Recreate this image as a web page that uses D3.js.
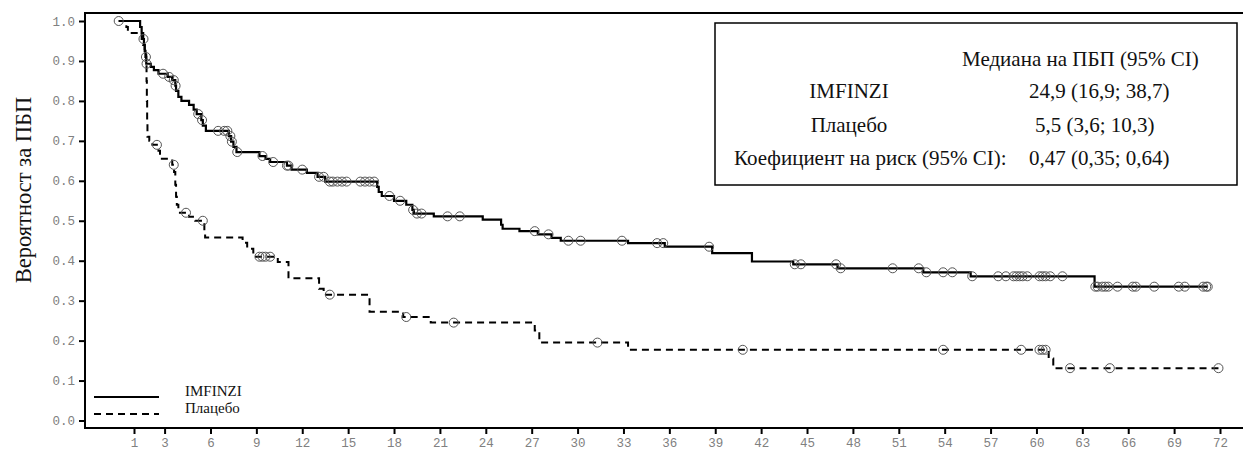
<!DOCTYPE html>
<html>
<head>
<meta charset="utf-8">
<script src="https://cdn.jsdelivr.net/npm/d3@7"></script>
<style>
  html, body { margin: 0; padding: 0; background: #fff; }
  svg { display: block; }
</style>
</head>
<body>
<div id="chart"></div>
<script>
// event times (months) and survival after each step
const imfTimes = [1.4, 1.5, 1.6, 1.65, 1.7, 1.75, 1.8, 2.1, 2.3, 2.6, 3.2, 3.5, 3.7, 3.75, 3.9, 4.1, 4.6, 4.9, 5.1, 5.4, 5.5, 5.7, 7.2, 7.35, 7.5, 7.7, 9.2, 9.6, 9.9, 11.0, 11.3, 12.3, 13.0, 13.5, 16.9, 17.0, 17.2, 18.0, 18.8, 19.2, 19.3, 20.6, 23.8, 25.0, 25.1, 26.2, 27.4, 28.3, 28.9, 33.3, 35.7, 38.8, 41.4, 44.1, 47.0, 52.6, 55.7, 63.8];
const imfSurv = [0.985, 0.97, 0.955, 0.94, 0.925, 0.91, 0.893, 0.885, 0.877, 0.868, 0.86, 0.852, 0.838, 0.825, 0.81, 0.80, 0.79, 0.778, 0.767, 0.752, 0.738, 0.725, 0.712, 0.698, 0.685, 0.672, 0.662, 0.655, 0.647, 0.638, 0.628, 0.62, 0.61, 0.598, 0.585, 0.572, 0.562, 0.55, 0.54, 0.527, 0.518, 0.511, 0.503, 0.49, 0.48, 0.474, 0.466, 0.457, 0.45, 0.444, 0.435, 0.419, 0.398, 0.391, 0.381, 0.371, 0.361, 0.335];
const imfCensor = [0, 1.62, 1.78, 1.82, 2.9, 3.3, 3.6, 3.72, 5.2, 5.45, 6.5, 6.9, 7.1, 7.3, 7.4, 7.75, 9.4, 10.1, 11.0, 11.1, 12.0, 13.1, 13.4, 13.8, 14.0, 14.3, 14.6, 14.9, 15.8, 16.1, 16.4, 16.7, 17.7, 18.4, 19.25, 19.5, 19.8, 21.5, 22.3, 27.2, 28.1, 29.4, 30.2, 32.9, 35.2, 35.6, 38.6, 44.2, 44.6, 46.9, 47.2, 50.6, 52.3, 52.8, 53.9, 54.5, 55.8, 57.5, 58.0, 58.5, 58.7, 58.9, 59.1, 59.4, 60.2, 60.4, 60.6, 60.9, 61.7, 63.85, 64.0, 64.3, 64.5, 64.7, 65.3, 66.3, 66.5, 67.7, 69.3, 69.7, 70.9, 71.1, 71.2];

const plcTimes = [0.5, 0.6, 1.5, 1.6, 1.7, 1.8, 1.82, 1.84, 1.86, 1.88, 2.0, 2.2, 2.6, 2.7, 3.5, 3.62, 3.7, 3.75, 3.8, 3.9, 4.6, 5.0, 5.6, 5.65, 8.1, 8.4, 8.8, 10.4, 11.1, 13.1, 13.4, 16.4, 18.6, 20.4, 27.2, 27.5, 33.3, 60.8, 61.1];
const plcSurv = [0.985, 0.97, 0.955, 0.94, 0.925, 0.895, 0.85, 0.80, 0.75, 0.71, 0.70, 0.69, 0.675, 0.655, 0.64, 0.622, 0.59, 0.56, 0.54, 0.52, 0.51, 0.50, 0.475, 0.458, 0.445, 0.43, 0.41, 0.397, 0.356, 0.33, 0.315, 0.272, 0.259, 0.245, 0.225, 0.195, 0.177, 0.155, 0.131];
const plcCensor = [2.5, 3.6, 4.4, 5.5, 9.2, 9.4, 9.6, 9.9, 13.8, 18.8, 21.9, 31.3, 40.8, 53.9, 59.0, 60.2, 60.4, 60.6, 62.2, 64.8, 71.9];

const xTicks = [1, 3, 6, 9, 12, 15, 18, 21, 24, 27, 30, 33, 36, 39, 42, 45, 48, 51, 54, 57, 60, 63, 66, 69, 72];
const yTicks = [0, 0.1, 0.2, 0.3, 0.4, 0.5, 0.6, 0.7, 0.8, 0.9, 1.0];

const seriesNames = ['IMFINZI', 'Плацебо'];
const boxHeader = 'Медиана на ПБП (95% CI)';
const boxLabels = ['IMFINZI', 'Плацебо', 'Коефициент на риск (95% CI):'];
const boxValues = ['24,9 (16,9; 38,7)', '5,5 (3,6; 10,3)', '0,47 (0,35; 0,64)'];
const yTitle = 'Вероятност за ПБП';

const width = 1243, height = 452;
const frame = { left: 85, top: 13, right: 1245, bottom: 428 };

const x = d3.scaleLinear().domain([0, 72]).range([118.7, 1220]);
const y = d3.scaleLinear().domain([0, 1]).range([420.5, 21]);

const svg = d3.select('#chart')
  .append('svg')
  .attr('width', width)
  .attr('height', height);

const survAt = (times, surv, t) => {
  let s = 1;
  for (let i = 0; i < times.length; i++) {
    if (times[i] <= t) s = surv[i];
  }
  return s;
};

const stepPoints = (times, surv, end) => {
  const pts = [[0, 1]];
  times.forEach((t, i) => pts.push([t, surv[i]]));
  pts.push([end, surv[surv.length - 1]]);
  return pts;
};

const line = d3.line()
  .x(d => x(d[0]))
  .y(d => y(d[1]))
  .curve(d3.curveStepAfter);

const monoFont = '"Liberation Mono", "DejaVu Sans Mono", monospace';
const serifFont = '"Liberation Serif", "Times New Roman", serif';

// frame
svg.append('path')
  .attr('d', `M${frame.right},${frame.top}H${frame.left}V${frame.bottom}H${frame.right}`)
  .attr('fill', 'none')
  .attr('stroke', '#000')
  .attr('stroke-width', 2);

// y axis
const yAxis = svg.append('g')
  .attr('transform', `translate(${frame.left},0)`)
  .call(d3.axisLeft(y).tickValues(yTicks).tickSize(6).tickFormat(d3.format('.1f')));
yAxis.select('.domain').remove();
yAxis.selectAll('line').attr('stroke', '#000').attr('stroke-width', 2);
yAxis.selectAll('text')
  .attr('x', -10)
  .style('font-family', monoFont)
  .style('font-size', '12.5px')
  .style('fill', '#808080');

// x axis
const xAxis = svg.append('g')
  .attr('transform', `translate(0,${frame.bottom})`)
  .call(d3.axisBottom(x).tickValues(xTicks).tickSize(6));
xAxis.select('.domain').remove();
xAxis.selectAll('line').attr('stroke', '#000').attr('stroke-width', 2);
xAxis.selectAll('text')
  .attr('y', 10)
  .style('font-family', monoFont)
  .style('font-size', '12.5px')
  .style('fill', '#808080');

// y title
svg.append('text')
  .attr('transform', 'translate(31,190) rotate(-90)')
  .attr('text-anchor', 'middle')
  .style('font-family', serifFont)
  .style('font-size', '22.5px')
  .style('fill', '#111')
  .text(yTitle);

// curves
svg.append('path')
  .datum(stepPoints(plcTimes, plcSurv, d3.max(plcCensor)))
  .attr('d', line)
  .attr('fill', 'none')
  .attr('stroke', '#000')
  .attr('stroke-width', 2)
  .attr('stroke-dasharray', '7,5');

svg.append('path')
  .datum(stepPoints(imfTimes, imfSurv, d3.max(imfCensor)))
  .attr('d', line)
  .attr('fill', 'none')
  .attr('stroke', '#000')
  .attr('stroke-width', 2.2);

// censor marks
const marks = [
  ...imfCensor.map(t => [t, survAt(imfTimes, imfSurv, t)]),
  ...plcCensor.map(t => [t, survAt(plcTimes, plcSurv, t)])
];
svg.append('g')
  .selectAll('circle')
  .data(marks)
  .enter()
  .append('circle')
  .attr('cx', d => x(d[0]))
  .attr('cy', d => y(d[1]))
  .attr('r', 4.5)
  .attr('fill', 'none')
  .attr('stroke', '#555')
  .attr('stroke-width', 1);

// legend
const legend = svg.append('g');
seriesNames.forEach((name, i) => {
  const ly = 397 + i * 17;
  legend.append('line')
    .attr('x1', 94).attr('x2', 159)
    .attr('y1', ly).attr('y2', ly)
    .attr('stroke', '#000')
    .attr('stroke-width', 2)
    .attr('stroke-dasharray', i === 1 ? '7,5' : null);
  legend.append('text')
    .attr('x', 185)
    .attr('y', ly - 1)
    .style('font-family', serifFont)
    .style('font-size', '15px')
    .style('fill', '#111')
    .text(name);
});

// info box
const box = svg.append('g');
box.append('rect')
  .attr('x', 715).attr('y', 23)
  .attr('width', 522).attr('height', 162)
  .attr('fill', '#fff')
  .attr('stroke', '#000')
  .attr('stroke-width', 1.5);

const boxFont = (sel) => sel
  .style('font-family', serifFont)
  .style('font-size', '21px')
  .style('fill', '#111');

box.append('text')
  .attr('x', 962).attr('y', 66)
  .call(boxFont)
  .text(boxHeader);

boxLabels.forEach((label, i) => {
  const by = 98 + i * 33.5;
  const t = box.append('text')
    .attr('y', by)
    .call(boxFont)
    .text(label);
  if (i < 2) t.attr('x', 849).attr('text-anchor', 'middle');
  else t.attr('x', 734);
  box.append('text')
    .attr('x', i === 1 ? 1035 : 1029)
    .attr('y', by)
    .call(boxFont)
    .text(boxValues[i]);
});
</script>
</body>
</html>
